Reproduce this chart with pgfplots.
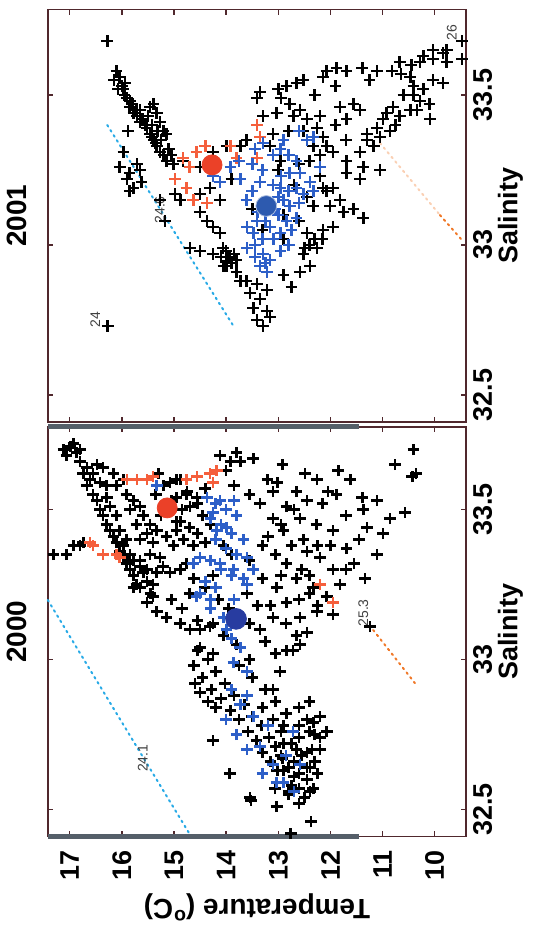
\documentclass[border=0pt]{standalone}
\usepackage{fontspec}
\setmainfont{Liberation Sans}
\usepackage{graphicx}
\usepackage{pgfplots}
\pgfplotsset{compat=1.18}

\definecolor{axiscol}{RGB}{80,40,45}
\definecolor{bluecross}{RGB}{45,95,200}
\definecolor{redcross}{RGB}{245,95,60}
\definecolor{redcirc}{RGB}{235,65,40}
\definecolor{bluecircA}{RGB}{40,60,160}
\definecolor{bluecircB}{RGB}{45,90,175}
\definecolor{cyandot}{RGB}{40,170,230}
\definecolor{orangedot}{RGB}{240,120,40}
\definecolor{thickgray}{RGB}{85,95,105}

\tikzset{isolabel/.style={font=\fontsize{7}{8}\selectfont, text=black!75}}

\pgfplotsset{
  tspanel/.style={
    scale only axis, height=209.1bp,
    xmin=32.41, ymin=9.40, ymax=17.42,
    xtick={32.5,33,33.5}, xticklabels={32.5,33,33.5},
    ytick={10,11,12,13,14,15,16,17},
    tick pos=both, tick align=inside,
    major tick length=2.6bp,
    axis line style={draw=axiscol, line width=0.75bp},
    every tick/.style={draw=axiscol, line width=0.75bp},
    tick label style={font=\fontsize{13.5}{15}\selectfont\bfseries, text=black},
    yticklabel style={xshift=-3.5bp},
    /pgf/number format/assume math mode=true,
    xlabel={Salinity},
    xlabel style={font=\fontsize{13.5}{15}\selectfont\bfseries, yshift=4bp},
    title style={font=\fontsize{14}{16}\selectfont\bfseries, yshift=1bp},
    clip=false,
  },
  blk/.style={only marks, mark=+, mark size=2.9bp, black, mark options={line width=1.3bp}},
  blu/.style={only marks, mark=+, mark size=2.9bp, bluecross, mark options={line width=1.3bp}},
  rdc/.style={only marks, mark=+, mark size=2.9bp, redcross, mark options={line width=1.3bp}},
  isoline/.style={line width=1bp, dash pattern=on 0.9bp off 2.1bp, line cap=round},
}

\begin{document}
\rotatebox{90}{%
\begin{tikzpicture}

% ---------- 2000 ----------
\begin{axis}[tspanel,
  at={(44.8bp,34.5bp)}, anchor=south west,
  width=204.75bp, xmax=33.775,
  title={2000},
  ylabel={Temperature (\textsuperscript{o}C)},
  ylabel style={font=\fontsize{14}{16}\selectfont\bfseries},
]
% sigma-t lines
\addplot[isoline, cyandot] coordinates {(33.198,17.42) (32.415,14.69)};
\addplot[isoline, orangedot] coordinates {(33.098,11.18) (32.921,10.38)};
% scan edge
\addplot[thickgray, line width=2.4bp] coordinates {(32.41,11.45) (32.41,17.42)};
\addplot[thickgray, line width=2.4bp] coordinates {(33.775,11.45) (33.775,17.42)};

\addplot[blk] coordinates {
(33.70,17.12) (33.71,16.99) (33.69,16.87) (33.68,17.06) (33.66,16.80) (33.64,16.67)
(33.62,16.74) (33.60,16.61) (33.58,16.67) (33.55,16.55) (33.53,16.48) (33.50,16.42)
(33.48,16.36) (33.45,16.29) (33.43,16.23) (33.41,16.16) (33.39,16.10) (33.36,16.04)
(33.34,15.97) (33.32,15.91) (33.30,15.84) (33.28,15.78) (33.25,15.72) (33.24,15.65)
(33.62,16.55) (33.59,16.42) (33.54,16.29) (33.51,16.23) (33.48,16.10) (33.43,16.04)
(33.40,15.91) (33.38,15.97) (33.35,15.84) (33.33,15.78) (33.31,15.65) (33.29,15.59)
(33.26,15.52)
(33.64,16.36) (33.62,16.16) (33.60,15.97) (33.58,16.10) (33.55,15.91) (33.53,15.78)
(33.51,15.65) (33.50,15.84) (33.48,15.59) (33.45,15.72) (33.45,15.46) (33.42,15.52)
(33.43,15.33) (33.40,15.65) (33.39,15.40) (33.41,15.14) (33.43,14.95) (33.40,14.82)
(33.38,14.63) (33.38,15.01) (33.46,14.88) (33.51,14.69) (33.55,14.76) (33.54,14.56)
(33.54,14.95) (33.35,15.46) (33.34,15.27) (33.33,15.65) (33.30,15.52) (33.29,15.33)
(33.25,15.40) (33.24,15.78) (33.31,15.21) (33.29,15.08) (33.30,14.88) (33.32,14.76)
(33.58,16.29) (33.65,16.48) (33.70,16.80) (33.72,16.93)
(33.62,15.30) (33.58,15.20) (33.55,15.35) (33.53,15.05) (33.48,15.25) (33.46,14.95)
(33.50,14.85) (33.56,14.75) (33.44,14.70) (33.60,14.95) (33.52,14.55) (33.48,14.45)
(33.42,14.55) (33.39,14.40) (33.57,14.40) (33.45,14.30)
(33.35,17.31) (33.35,17.06) (33.38,16.93) (33.38,16.80) (33.39,16.74)
(33.68,14.12) (33.66,13.92) (33.69,13.80) (33.60,14.88) (33.59,15.08)
(33.66,13.73) (33.67,13.48) (33.65,12.92) (33.60,13.21)
(33.59,13.02) (33.62,12.49) (33.60,12.26) (33.60,11.62) (33.55,11.88) (33.54,11.39)
(33.50,11.37) (33.53,11.11) (33.47,10.86) (33.42,10.99) (33.35,11.11) (33.27,11.34)
(33.11,11.24) (33.65,10.76) (33.44,11.30) (33.37,11.69) (33.43,11.95) (33.45,12.27)
(33.47,12.58) (33.51,12.84) (33.47,13.10) (33.43,12.90) (33.40,12.52) (33.34,12.20)
(33.30,11.95) (33.25,11.82) (33.21,12.07) (33.24,12.33) (33.27,12.65) (33.32,12.84)
(33.24,13.03) (33.19,12.84) (33.14,12.58) (33.16,12.26) (33.15,11.95) (33.14,13.10)
(33.10,13.35) (33.09,12.45) (33.03,12.72)
(33.56,13.10) (33.50,12.70) (33.45,12.95) (33.41,13.20) (33.38,12.75) (33.35,13.05)
(33.30,12.55) (33.28,12.95) (33.22,12.40) (33.18,12.25) (33.12,12.85) (33.08,12.65)
(33.30,11.70) (33.40,11.45) (33.48,11.70) (33.56,12.05) (33.63,11.85) (33.52,12.15)
(33.38,12.25) (33.18,13.15)
(33.70,10.41) (33.61,10.43) (33.62,10.36) (33.49,10.57)
(33.63,14.00) (33.58,13.85) (33.55,13.55) (33.52,13.35) (33.56,12.65) (33.53,12.45)
(33.38,12.00) (33.36,12.45) (33.28,12.40) (33.20,12.60) (33.32,11.55)
(33.19,15.52) (33.16,15.33) (33.14,15.14) (33.12,14.88) (33.10,14.69) (33.21,15.40)
(33.10,14.50) (33.11,14.31) (33.22,15.45) (33.20,15.05) (33.17,14.85) (33.22,14.70)
(33.27,14.62) (33.13,14.55) (33.04,14.50)
(33.38,14.05) (33.35,13.90) (33.28,14.25) (33.24,14.40) (33.20,14.15)
(33.17,13.95) (33.12,14.25) (33.08,14.05) (33.05,13.80) (33.02,14.25) (33.33,13.55)
(33.22,13.60) (33.18,13.40) (33.27,13.30) (33.12,13.55) (33.06,13.25) (33.00,13.55)
(33.38,13.30) (33.02,13.05)
(33.03,14.55) (33.00,14.35) (32.98,14.62) (32.96,14.20) (32.94,14.45) (32.92,14.02)
(32.90,14.28) (32.88,13.85) (32.87,14.10) (32.85,13.65) (32.83,13.92) (32.81,13.50)
(32.80,13.75) (32.78,13.32) (32.76,13.58) (32.74,13.18) (32.73,13.42) (32.71,13.05)
(32.69,13.30) (32.67,12.92) (32.66,13.15) (32.64,12.80) (32.63,13.02) (32.61,12.70)
(32.59,12.90) (32.57,12.60) (32.56,12.80) (32.54,12.50) (32.84,13.30) (32.80,13.10)
(32.76,12.95) (32.72,12.75) (32.68,12.55) (32.64,12.45) (32.78,12.60) (32.82,12.85)
(32.86,13.05) (32.90,13.25) (32.94,13.50) (32.98,13.75) (32.70,12.35) (32.74,12.20)
(32.76,12.40) (32.66,12.30) (32.62,12.25) (32.92,14.60) (32.89,14.50) (32.86,14.35)
(32.84,14.20)
(32.84,12.60) (32.80,12.45) (32.78,12.90) (32.74,12.60) (32.72,12.90) (32.70,12.65)
(32.68,12.95) (32.66,12.70) (32.62,12.60) (32.60,12.45) (32.58,12.75) (32.63,12.90)
(32.69,12.45) (32.75,12.30) (32.81,12.20) (32.86,12.40)
(32.79,12.33) (32.76,12.07) (32.70,12.20) (32.64,12.39) (32.57,12.33) (32.82,12.84)
(32.90,13.10) (32.96,12.97) (33.05,12.58) (33.03,12.84)
(32.73,14.25) (32.62,13.93) (32.54,13.54) (32.53,13.52) (32.57,13.06) (32.51,13.03)
(32.55,12.80) (32.52,12.60) (32.56,12.39) (32.46,12.37) (32.42,12.76)
};
\addplot[rdc] coordinates {
(33.60,15.90) (33.60,15.71) (33.60,15.52) (33.61,15.40) (33.60,14.76) (33.61,14.56)
(33.62,14.31) (33.59,14.25) (33.63,14.18) (33.39,16.61) (33.38,16.55) (33.35,16.36)
(33.35,16.10) (33.34,16.04) (33.25,12.20) (33.19,11.95)
};
\addplot[blu] coordinates {
(33.49,14.25) (33.44,13.99) (33.40,13.67) (33.34,14.50) (33.32,14.12) (33.30,13.86)
(33.27,13.67) (33.21,14.57) (33.17,14.30) (33.10,13.99) (33.04,13.73) (32.99,13.86)
(32.96,13.60) (32.85,13.73) (32.81,13.48) (32.71,13.35) (32.65,13.10) (32.59,12.90)
(32.65,12.58) (32.76,12.72) (33.25,13.60) (33.43,14.18) (33.54,14.37) (33.53,14.12)
(33.32,14.63) (33.34,13.60) (33.30,13.48) (32.59,13.03) (32.80,14.00) (32.75,13.80)
(32.90,13.90) (32.70,13.60) (32.62,13.30) (33.14,14.05) (33.07,13.90) (33.20,13.85)
(32.88,13.60) (32.78,13.20) (32.68,12.85) (32.56,12.70)
(33.52,14.20) (33.50,14.00) (33.47,14.30) (33.45,14.10) (33.42,13.90) (33.40,14.20)
(33.37,14.00) (33.35,13.80) (33.33,14.30) (33.30,14.10) (33.28,13.90) (33.26,14.40)
(33.24,14.20) (33.22,14.50) (33.20,14.30) (33.48,13.80) (33.53,13.85) (33.58,15.33)
};
\addplot[only marks, mark=*, mark size=5bp, redcirc] coordinates {(33.505,15.13)};
\addplot[only marks, mark=*, mark size=5.2bp, bluecircA] coordinates {(33.135,13.81)};
\node[isolabel] at (axis cs:32.67,15.60) {24.1};
\node[isolabel] at (axis cs:33.155,11.37) {25.3};
\end{axis}

% ---------- 2001 ----------
\begin{axis}[tspanel,
  at={(252bp,34.5bp)}, anchor=south west,
  width=206.25bp, xmax=33.785,
  yticklabels={},
  title={2001},
]
\addplot[isoline, cyandot] coordinates {(33.40,16.28) (32.733,13.87)};
\addplot[isoline, orangedot, opacity=0.35] coordinates {(33.34,11.05) (33.10,9.90)};
\addplot[isoline, orangedot] coordinates {(33.10,9.90) (33.017,9.48)};

\addplot[blk] coordinates {
(33.68,16.28)
(33.56,16.04) (33.54,15.94) (33.52,16.07) (33.49,15.90) (33.46,15.85) (33.44,15.78)
(33.43,15.71) (33.41,15.65) (33.39,15.52) (33.37,15.46) (33.35,15.39) (33.33,15.33)
(33.31,15.27) (33.28,15.14) (33.27,15.01)
(33.46,15.46) (33.44,15.33) (33.41,15.27) (33.38,15.20) (33.37,15.14) (33.47,15.39)
(33.50,15.95) (33.47,15.80) (33.45,15.72) (33.42,15.60) (33.40,15.55) (33.36,15.42)
(33.34,15.35) (33.30,15.20) (33.58,16.10) (33.53,16.00)
(33.55,16.15) (33.52,15.98) (33.48,15.84) (33.45,15.65) (33.43,15.50) (33.40,15.42)
(33.38,15.32) (33.35,15.25) (33.32,15.10) (33.30,15.05)
(33.31,15.97) (33.26,16.04) (33.24,15.85) (33.27,15.71) (33.25,15.65) (33.22,15.90)
(33.19,15.78) (33.18,15.85) (33.21,15.62)
(33.38,15.88) (33.17,14.98) (33.15,15.27) (33.08,15.17)
(32.73,16.27)
(33.68,9.48) (33.65,9.77) (33.62,9.48) (33.61,9.77) (33.65,10.03) (33.63,10.22)
(33.61,10.28) (33.62,10.03) (33.64,9.84) (33.61,10.67) (33.58,11.11) (33.59,11.39)
(33.58,11.69) (33.59,11.88) (33.58,12.07) (33.56,12.14) (33.55,12.52) (33.54,12.65)
(33.53,12.84) (33.52,13.00) (33.51,13.35) (33.49,13.41) (33.58,10.82)
(33.56,10.47) (33.53,10.41) (33.52,10.22) (33.55,10.03) (33.54,9.84) (33.50,10.41)
(33.48,10.28) (33.46,10.80) (33.45,10.47) (33.43,10.67) (33.44,10.92) (33.42,10.99)
(33.39,11.11) (33.38,10.86) (33.36,11.05) (33.35,11.30) (33.33,11.17) (33.42,10.09)
(33.45,10.34) (33.47,11.56) (33.46,11.82) (33.45,11.43) (33.42,11.69) (33.25,11.05)
(33.60,10.45) (33.57,10.65) (33.50,10.60) (33.47,10.10) (33.40,10.75) (33.37,11.30)
(33.55,11.25) (33.53,11.90) (33.50,12.30) (33.49,12.95) (33.40,11.90) (33.35,11.70)
(33.30,12.20) (33.27,12.60) (33.16,12.45) (33.06,11.95) (33.02,12.15)
(33.47,12.78) (33.45,12.58) (33.43,12.71) (33.42,12.45) (33.43,12.20) (33.39,12.26)
(33.38,12.52) (33.36,12.14) (33.33,12.07) (33.33,12.33) (33.31,11.95) (33.28,11.69)
(33.31,11.43) (33.26,11.37) (33.22,11.43) (33.24,11.69) (33.19,11.95) (33.15,11.82)
(33.12,11.56) (33.09,11.37) (33.11,11.75) (33.13,12.01) (33.05,12.14) (32.99,12.26)
(33.04,12.45) (32.97,12.52) (32.93,12.39) (32.91,12.58) (33.00,12.40) (33.02,12.30)
(32.99,12.50)
(33.37,13.10) (33.28,12.96) (33.43,13.29) (33.44,13.03) (33.33,13.16) (33.19,12.14)
(33.23,12.20) (33.18,12.07) (33.13,12.33)
(33.25,13.00) (33.20,12.70) (33.10,12.90) (33.05,13.30) (33.12,13.50) (33.22,13.90)
(33.08,12.60) (33.28,12.40) (33.38,12.80) (33.02,12.90) (32.90,12.90) (32.86,12.75)
(33.11,14.50) (33.08,14.37) (33.06,14.25) (33.04,14.12) (32.99,14.69) (32.98,14.50)
(32.97,14.25) (32.99,14.06) (32.96,13.93) (32.95,13.80) (32.93,13.99) (32.91,13.80)
(32.88,13.61) (32.87,13.41) (32.85,13.22) (32.84,13.54) (32.82,13.35) (32.79,13.48)
(32.78,13.22) (32.73,13.29) (32.75,13.41) (32.76,13.16) (32.88,13.73) (32.96,13.99)
(32.98,14.00) (32.96,14.10) (32.94,13.90) (32.97,13.85) (32.93,14.05)
(33.28,14.83) (33.26,14.50) (33.31,14.25) (33.15,14.12) (33.17,14.50) (33.19,14.31)
(33.15,14.88) (33.33,13.99) (33.33,13.73) (33.35,13.61)
};
\addplot[rdc] coordinates {
(33.40,13.41) (33.36,13.35) (33.33,13.92) (33.29,13.80) (33.29,14.83) (33.31,14.57)
(33.19,14.76) (33.15,14.63) (33.14,14.37) (33.29,13.41) (33.22,14.98) (33.26,14.70)
(33.33,14.40)
};
\addplot[blu] coordinates {
(33.34,13.29) (33.32,12.96) (33.28,12.65) (33.35,12.45) (33.36,12.33) (33.21,14.12)
(33.22,13.73) (33.21,13.35) (33.19,12.96) (33.19,12.65) (33.21,12.39) (33.08,13.41)
(33.06,13.16) (33.04,12.96) (33.08,12.84) (33.02,13.09) (32.97,13.29) (32.93,13.35)
(32.91,13.22) (32.98,12.96) (33.13,12.78) (33.15,13.61) (33.26,13.92) (33.23,14.25)
(33.24,12.78) (33.17,12.52) (33.15,12.90) (33.04,13.48) (33.02,13.30) (32.99,13.60)
(32.95,13.16) (33.09,12.65) (33.24,12.58) (33.26,12.20) (33.18,12.33) (33.20,13.10)
(33.12,13.20) (33.10,13.00) (33.27,13.50) (33.30,13.10)
(33.30,12.80) (33.25,13.30) (33.18,13.50) (33.16,13.00) (33.14,12.60) (33.11,13.40)
(33.06,13.60) (33.00,13.45) (32.96,13.45) (32.94,13.25) (33.00,12.80) (33.05,12.75)
(33.28,13.75) (33.32,13.45) (33.38,12.60) (33.35,12.90) (33.23,12.95) (33.18,12.80)
(33.12,13.05) (33.08,13.25)
};
\addplot[only marks, mark=*, mark size=5bp, redcirc] coordinates {(33.267,14.27)};
\addplot[only marks, mark=*, mark size=5.2bp, bluecircB, mark options={draw=white!60!bluecircB, line width=0.4bp}] coordinates {(33.13,13.23)};
\node[isolabel] at (axis cs:33.117,15.27) {24.6};
\node[isolabel] at (axis cs:32.75,16.51) {24};
\node[isolabel] at (axis cs:33.707,9.67) {26};
\end{axis}

\pgfresetboundingbox
\path[use as bounding box] (0,0) rectangle (463bp,267.5bp);
\end{tikzpicture}%
}
\end{document}
